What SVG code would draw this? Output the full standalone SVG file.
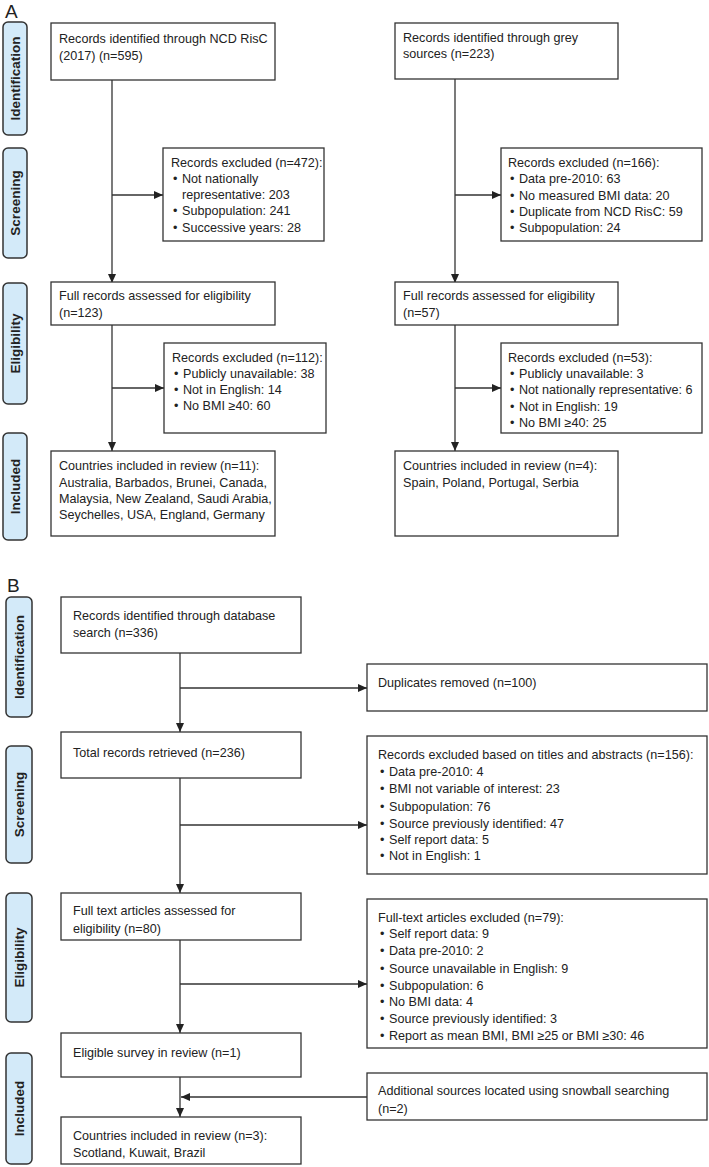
<svg xmlns="http://www.w3.org/2000/svg" width="709" height="1167" viewBox="0 0 709 1167">
<style>
  .box{fill:#fff;stroke:#333;stroke-width:1.3}
  .side{fill:#d3eaf9;stroke:#333;stroke-width:1.5}
  .t{font-family:"Liberation Sans",Arial,sans-serif;font-size:12.6px;fill:#222}
  .st{font-family:"Liberation Sans",Arial,sans-serif;font-size:13.5px;font-weight:bold;fill:#222;text-anchor:middle;dominant-baseline:central}
  .pl{font-family:"Liberation Sans",Arial,sans-serif;font-size:19px;fill:#222}
  .c{fill:none;stroke:#333;stroke-width:1.3}
</style>
<defs>
  <marker id="ah" markerWidth="9" markerHeight="8" refX="9" refY="4" orient="auto" markerUnits="userSpaceOnUse">
    <path d="M0,0 L9,4 L0,8 Z" fill="#222"/>
  </marker>
</defs>
<rect width="709" height="1167" fill="#fff"/>

<text class="pl" x="5" y="18">A</text>
<text class="pl" x="7" y="592">B</text>

<g id="sideA">
  <rect class="side" x="3" y="22" width="24" height="113" rx="5"/>
  <text class="st" transform="translate(15,78.5) rotate(-90)">Identification</text>
  <rect class="side" x="3" y="148" width="24" height="110" rx="5"/>
  <text class="st" transform="translate(15,203) rotate(-90)">Screening</text>
  <rect class="side" x="3" y="283" width="24" height="121" rx="5"/>
  <text class="st" transform="translate(15,343.5) rotate(-90)">Eligibility</text>
  <rect class="side" x="3" y="433" width="24" height="107" rx="5"/>
  <text class="st" transform="translate(15,486.5) rotate(-90)">Included</text>
</g>

<g id="sideB">
  <rect class="side" x="6" y="597" width="26" height="120" rx="5"/>
  <text class="st" transform="translate(19,657) rotate(-90)">Identification</text>
  <rect class="side" x="6" y="746" width="26" height="117" rx="5"/>
  <text class="st" transform="translate(19,804.5) rotate(-90)">Screening</text>
  <rect class="side" x="6" y="893" width="26" height="129" rx="5"/>
  <text class="st" transform="translate(19,957.5) rotate(-90)">Eligibility</text>
  <rect class="side" x="6" y="1053" width="26" height="111" rx="5"/>
  <text class="st" transform="translate(19,1108.5) rotate(-90)">Included</text>
</g>

<g id="connectors">
  <line class="c" x1="112" y1="80" x2="112" y2="283" marker-end="url(#ah)"/>
  <line class="c" x1="112" y1="195" x2="163" y2="195" marker-end="url(#ah)"/>
  <line class="c" x1="112" y1="325" x2="112" y2="451" marker-end="url(#ah)"/>
  <line class="c" x1="112" y1="388" x2="164" y2="388" marker-end="url(#ah)"/>
  <line class="c" x1="455" y1="79" x2="455" y2="283" marker-end="url(#ah)"/>
  <line class="c" x1="455" y1="195" x2="501" y2="195" marker-end="url(#ah)"/>
  <line class="c" x1="455" y1="325" x2="455" y2="451" marker-end="url(#ah)"/>
  <line class="c" x1="455" y1="388" x2="501" y2="388" marker-end="url(#ah)"/>
  <line class="c" x1="180" y1="653" x2="180" y2="732" marker-end="url(#ah)"/>
  <line class="c" x1="180" y1="688" x2="367" y2="688" marker-end="url(#ah)"/>
  <line class="c" x1="180" y1="778" x2="180" y2="893" marker-end="url(#ah)"/>
  <line class="c" x1="180" y1="825" x2="367" y2="825" marker-end="url(#ah)"/>
  <line class="c" x1="180" y1="940" x2="180" y2="1033" marker-end="url(#ah)"/>
  <line class="c" x1="180" y1="984" x2="367" y2="984" marker-end="url(#ah)"/>
  <line class="c" x1="180" y1="1077" x2="180" y2="1117" marker-end="url(#ah)"/>
  <line class="c" x1="367" y1="1097" x2="181" y2="1097" marker-end="url(#ah)"/>
</g>

<g id="a-ncd">
  <rect class="box" x="51" y="23" width="224" height="57"/>
  <text class="t"><tspan x="59" y="43">Records identified through NCD RisC</tspan><tspan x="59" y="60">(2017) (n=595)</tspan></text>
</g>
<g id="a-excl1">
  <rect class="box" x="163" y="148" width="161" height="93"/>
  <text class="t"><tspan x="171" y="167">Records excluded (n=472):</tspan><tspan x="173" y="183">•</tspan><tspan x="182" y="183">Not nationally</tspan><tspan x="182" y="199">representative: 203</tspan><tspan x="173" y="215">•</tspan><tspan x="182" y="215">Subpopulation: 241</tspan><tspan x="173" y="232">•</tspan><tspan x="182" y="232">Successive years: 28</tspan></text>
</g>
<g id="a-full1">
  <rect class="box" x="51" y="282" width="224" height="43"/>
  <text class="t"><tspan x="59" y="300">Full records assessed for eligibility</tspan><tspan x="59" y="317">(n=123)</tspan></text>
</g>
<g id="a-excl2">
  <rect class="box" x="164" y="343" width="162" height="90"/>
  <text class="t"><tspan x="172" y="362">Records excluded (n=112):</tspan><tspan x="174" y="378">•</tspan><tspan x="183" y="378">Publicly unavailable: 38</tspan><tspan x="174" y="394">•</tspan><tspan x="183" y="394">Not in English: 14</tspan><tspan x="174" y="410">•</tspan><tspan x="183" y="410">No BMI ≥40: 60</tspan></text>
</g>
<g id="a-incl1">
  <rect class="box" x="51" y="451" width="224" height="85"/>
  <text class="t"><tspan x="59" y="470">Countries included in review (n=11):</tspan><tspan x="59" y="487">Australia, Barbados, Brunei, Canada,</tspan><tspan x="59" y="503">Malaysia, New Zealand, Saudi Arabia,</tspan><tspan x="59" y="519">Seychelles, USA, England, Germany</tspan></text>
</g>

<g id="a-grey">
  <rect class="box" x="395" y="23" width="223" height="56"/>
  <text class="t"><tspan x="403" y="42">Records identified through grey</tspan><tspan x="403" y="58">sources (n=223)</tspan></text>
</g>
<g id="a-excl3">
  <rect class="box" x="501" y="148" width="201" height="93"/>
  <text class="t"><tspan x="508" y="167">Records excluded (n=166):</tspan><tspan x="510" y="183">•</tspan><tspan x="519" y="183">Data pre-2010: 63</tspan><tspan x="510" y="200">•</tspan><tspan x="519" y="200">No measured BMI data: 20</tspan><tspan x="510" y="216">•</tspan><tspan x="519" y="216">Duplicate from NCD RisC: 59</tspan><tspan x="510" y="232">•</tspan><tspan x="519" y="232">Subpopulation: 24</tspan></text>
</g>
<g id="a-full2">
  <rect class="box" x="395" y="282" width="223" height="43"/>
  <text class="t"><tspan x="403" y="300">Full records assessed for eligibility</tspan><tspan x="403" y="317">(n=57)</tspan></text>
</g>
<g id="a-excl4">
  <rect class="box" x="501" y="343" width="201" height="90"/>
  <text class="t"><tspan x="508" y="362">Records excluded (n=53):</tspan><tspan x="510" y="378">•</tspan><tspan x="519" y="378">Publicly unavailable: 3</tspan><tspan x="510" y="394">•</tspan><tspan x="519" y="394">Not nationally representative: 6</tspan><tspan x="510" y="411">•</tspan><tspan x="519" y="411">Not in English: 19</tspan><tspan x="510" y="427">•</tspan><tspan x="519" y="427">No BMI ≥40: 25</tspan></text>
</g>
<g id="a-incl2">
  <rect class="box" x="395" y="451" width="223" height="85"/>
  <text class="t"><tspan x="403" y="470">Countries included in review (n=4):</tspan><tspan x="403" y="487">Spain, Poland, Portugal, Serbia</tspan></text>
</g>

<g id="b-db">
  <rect class="box" x="61" y="597" width="240" height="56"/>
  <text class="t"><tspan x="73" y="620">Records identified through database</tspan><tspan x="73" y="637">search (n=336)</tspan></text>
</g>
<g id="b-dup">
  <rect class="box" x="367" y="664" width="340" height="47"/>
  <text class="t" x="378" y="687">Duplicates removed (n=100)</text>
</g>
<g id="b-total">
  <rect class="box" x="61" y="732" width="240" height="46"/>
  <text class="t" x="73" y="757">Total records retrieved (n=236)</text>
</g>
<g id="b-excl1">
  <rect class="box" x="367" y="736" width="340" height="138"/>
  <text class="t"><tspan x="378" y="759">Records excluded based on titles and abstracts (n=156):</tspan><tspan x="380" y="776">•</tspan><tspan x="389" y="776">Data pre-2010: 4</tspan><tspan x="380" y="793">•</tspan><tspan x="389" y="793">BMI not variable of interest: 23</tspan><tspan x="380" y="811">•</tspan><tspan x="389" y="811">Subpopulation: 76</tspan><tspan x="380" y="828">•</tspan><tspan x="389" y="828">Source previously identified: 47</tspan><tspan x="380" y="844">•</tspan><tspan x="389" y="844">Self report data: 5</tspan><tspan x="380" y="860">•</tspan><tspan x="389" y="860">Not in English: 1</tspan></text>
</g>
<g id="b-full">
  <rect class="box" x="61" y="893" width="240" height="47"/>
  <text class="t"><tspan x="73" y="915">Full text articles assessed for</tspan><tspan x="73" y="933">eligibility (n=80)</tspan></text>
</g>
<g id="b-excl2">
  <rect class="box" x="367" y="899" width="340" height="149"/>
  <text class="t"><tspan x="378" y="922">Full-text articles excluded (n=79):</tspan><tspan x="380" y="938">•</tspan><tspan x="389" y="938">Self report data: 9</tspan><tspan x="380" y="955">•</tspan><tspan x="389" y="955">Data pre-2010: 2</tspan><tspan x="380" y="973">•</tspan><tspan x="389" y="973">Source unavailable in English: 9</tspan><tspan x="380" y="990">•</tspan><tspan x="389" y="990">Subpopulation: 6</tspan><tspan x="380" y="1006">•</tspan><tspan x="389" y="1006">No BMI data: 4</tspan><tspan x="380" y="1023">•</tspan><tspan x="389" y="1023">Source previously identified: 3</tspan><tspan x="380" y="1040">•</tspan><tspan x="389" y="1040">Report as mean BMI, BMI ≥25 or BMI ≥30: 46</tspan></text>
</g>
<g id="b-elig">
  <rect class="box" x="61" y="1033" width="240" height="44"/>
  <text class="t" x="73" y="1057">Eligible survey in review (n=1)</text>
</g>
<g id="b-snow">
  <rect class="box" x="367" y="1073" width="340" height="47"/>
  <text class="t"><tspan x="378" y="1095">Additional sources located using snowball searching</tspan><tspan x="378" y="1113">(n=2)</tspan></text>
</g>
<g id="b-incl">
  <rect class="box" x="61" y="1117" width="240" height="47"/>
  <text class="t"><tspan x="73" y="1140">Countries included in review (n=3):</tspan><tspan x="73" y="1157">Scotland, Kuwait, Brazil</tspan></text>
</g>
</svg>
